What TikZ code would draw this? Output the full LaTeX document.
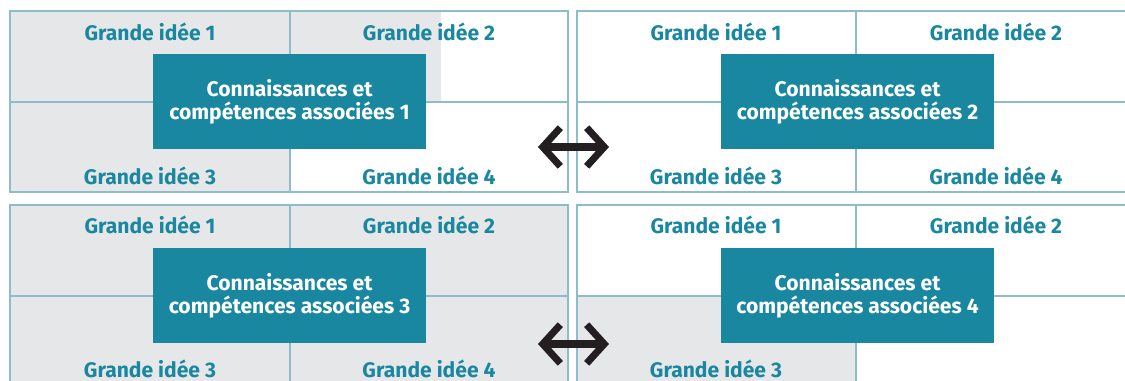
\documentclass[tikz,border=0pt]{standalone}
\usepackage{fontspec}
\setmainfont{Fira Sans}
\usetikzlibrary{arrows.meta,positioning}

\definecolor{ideeteal}{HTML}{1A87A0}
\definecolor{boxteal}{HTML}{18879F}
\definecolor{gridline}{HTML}{8DBCCB}
\definecolor{greyfill}{HTML}{E6E7E8}
\definecolor{arrowink}{HTML}{231F20}

\begin{document}
\begin{tikzpicture}[x=0.02cm,y=-0.02cm,
  grid line/.style={draw=gridline,line width=0.8pt},
  idee/.style={text=ideeteal,font=\bfseries\fontsize{12}{14}\selectfont},
  savoir/.style={fill=boxteal,text=white,inner sep=0pt,minimum width=5.46cm,
    minimum height=1.9cm,align=center,font=\bfseries\fontsize{12}{13.2}\selectfont},
  swap arrow/.style={{Straight Barb[length=10pt,width=22pt]}-{Straight Barb[length=10pt,width=22pt]},
    line width=4pt,draw=arrowink}]

\clip (0,0) rectangle (1125,380);

% top panel
\fill[greyfill] (10,11) rectangle (290,192);
\fill[greyfill] (290,11) rectangle (441,102);
\draw[grid line] (10,11) rectangle (568,192);
\draw[grid line] (290,11) -- (290,192);
\draw[grid line] (10,102) -- (568,102);
\draw[grid line] (577,11) rectangle (1140,192);
\draw[grid line] (856,11) -- (856,192);
\draw[grid line] (577,102) -- (1140,102);

% bottom panel
\fill[greyfill] (10,205) rectangle (568,392);
\fill[greyfill] (577,296) rectangle (856,392);
\draw[grid line] (10,205) rectangle (568,392);
\draw[grid line] (290,205) -- (290,392);
\draw[grid line] (10,296) -- (568,296);
\draw[grid line] (577,205) rectangle (1140,392);
\draw[grid line] (856,205) -- (856,392);
\draw[grid line] (577,296) -- (1140,296);

\node[idee] (ga1) at (150,32) {Grande idée 1};
\node[idee] (ga2) at (429,32) {Grande idée 2};
\node[idee] (ga3) at (150,176) {Grande idée 3};
\node[idee] (ga4) at (429,176) {Grande idée 4};
\node[idee] (gb1) at (716,32) {Grande idée 1};
\node[idee] (gb2) at (996,32) {Grande idée 2};
\node[idee] (gb3) at (716,176) {Grande idée 3};
\node[idee] (gb4) at (996,176) {Grande idée 4};

\node[idee] (gc1) at (150,225) {Grande idée 1};
\node[idee] (gc2) at (429,225) {Grande idée 2};
\node[idee] (gc3) at (150,369) {Grande idée 3};
\node[idee] (gc4) at (429,369) {Grande idée 4};
\node[idee] (gd1) at (716,225) {Grande idée 1};
\node[idee] (gd2) at (996,225) {Grande idée 2};
\node[idee] (gd3) at (716,369) {Grande idée 3};

\node[savoir] (ca1) at (289.5,101.5) {Connaissances et\\compétences associées 1};
\node[savoir] (ca2) at (857.5,101.5) {Connaissances et\\compétences associées 2};
\node[savoir] (ca3) at (289.5,295.5) {Connaissances et\\compétences associées 3};
\node[savoir] (ca4) at (857.5,295.5) {Connaissances et\\compétences associées 4};

\coordinate (sa) at (538,147);
\coordinate (sb) at (609,147);
\coordinate (sc) at (538,344);
\coordinate (sd) at (609,344);
\draw[swap arrow] (sa) -- (sb);
\draw[swap arrow] (sc) -- (sd);
\end{tikzpicture}
\end{document}
